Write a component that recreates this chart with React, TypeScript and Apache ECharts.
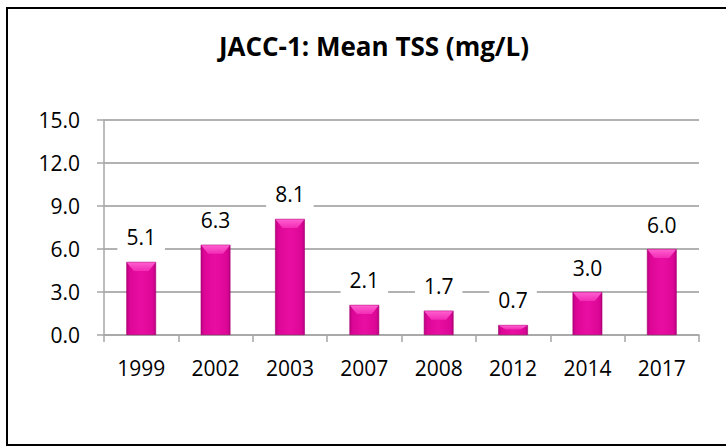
import React, { useEffect, useRef } from "react";
import * as echarts from "echarts";

const titleText = "JACC-1: Mean TSS (mg/L)";
const categories = ["1999", "2002", "2003", "2007", "2008", "2012", "2014", "2017"];
const values = [5.1, 6.3, 8.1, 2.1, 1.7, 0.7, 3.0, 6.0];
const yMin = 0;
const yMax = 15;
const yInterval = 3;

export default function App() {
  const ref = useRef<HTMLDivElement>(null);
  useEffect(() => {
    if (!ref.current) return;
    const chart = echarts.init(ref.current, null, { renderer: "svg" });
    const font = "'Open Sans', sans-serif";
    chart.setOption({
      animation: false,
      backgroundColor: "#ffffff",
      title: {
        text: titleText,
        left: 369,
        top: 28,
        textAlign: "center",
        textStyle: { fontFamily: font, fontWeight: "bold", fontSize: 26, color: "#000" },
      },
      graphic: [
        {
          type: "rect",
          shape: { x: 7, y: 8, width: 740, height: 437 },
          style: { fill: "none", stroke: "#000", lineWidth: 2 },
          silent: true,
        },
      ],
      grid: { left: 104, right: 27, top: 120, bottom: 111 },
      xAxis: {
        type: "category",
        data: categories,
        axisLine: { lineStyle: { color: "#a6a6a6", width: 1.5 } },
        axisTick: { show: true, length: 7, alignWithLabel: false, lineStyle: { color: "#a6a6a6", width: 1.5 } },
        axisLabel: { fontFamily: font, fontSize: 21, color: "#000", margin: 22 },
      },
      yAxis: {
        type: "value",
        min: yMin,
        max: yMax,
        interval: yInterval,
        axisLine: { show: true, lineStyle: { color: "#a6a6a6", width: 1.5 } },
        axisTick: { show: true, length: 7, lineStyle: { color: "#a6a6a6", width: 1.5 } },
        splitLine: { show: true, lineStyle: { color: "#999999", width: 1.5 } },
        axisLabel: {
          fontFamily: font,
          fontSize: 21,
          color: "#000",
          margin: 24,
          formatter: (v: number) => v.toFixed(1),
        },
      },
      series: [
        {
          type: "bar",
          data: values,
          barWidth: "40%",
          itemStyle: {
            color: new echarts.graphic.LinearGradient(0, 0, 1, 0, [
              { offset: 0, color: "#b8007f" },
              { offset: 0.1, color: "#dc0696" },
              { offset: 0.5, color: "#e90ea2" },
              { offset: 0.9, color: "#dc0696" },
              { offset: 1, color: "#b8007f" },
            ]),
            borderColor: "#a8006f",
            borderWidth: 0.6,
          },
          label: {
            show: true,
            position: "top",
            distance: 12,
            fontFamily: font,
            fontSize: 21,
            color: "#000",
            backgroundColor: "#ffffff",
            padding: [2, 9],
            formatter: (p: any) => Number(p.value).toFixed(1),
          },
        },
        {
          type: "custom",
          data: values.map((v, i) => [i, v]),
          silent: true,
          z: 3,
          renderItem: (params: any, api: any) => {
            const top = api.coord([api.value(0), api.value(1)]);
            const bottom = api.coord([api.value(0), 0]);
            const band = api.size([1, 0])[0];
            const w = band * 0.4;
            const l = top[0] - w / 2 + 0.5;
            const r = top[0] + w / 2 - 0.5;
            const h = Math.min(9, (bottom[1] - top[1]) * 0.45);
            const inset = Math.min(7, w * 0.25);
            return {
              type: "polygon",
              shape: {
                points: [
                  [l, top[1] + 0.5],
                  [r, top[1] + 0.5],
                  [r - inset, top[1] + h],
                  [l + inset, top[1] + h],
                ],
              },
              style: {
                fill: new echarts.graphic.LinearGradient(0, 0, 0, 1, [
                  { offset: 0, color: "#ff5fd0" },
                  { offset: 1, color: "#f22cb5" },
                ]),
                stroke: "none",
              },
            };
          },
        },
      ],
    });
    return () => chart.dispose();
  }, []);
  return (
    <div
      ref={ref}
      style={{ position: "absolute", left: 0, top: 0, width: 726, height: 446 }}
    />
  );
}
